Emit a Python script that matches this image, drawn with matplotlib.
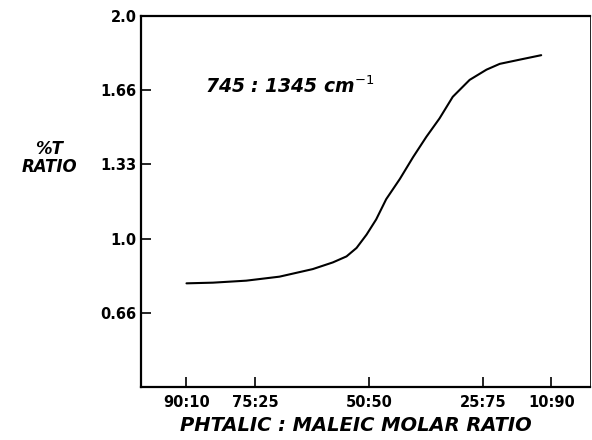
import matplotlib
matplotlib.use("Agg")
import matplotlib.pyplot as plt

phthalic = [90.0, 84.2, 76.9, 69.6, 62.3, 57.9, 54.9, 52.7, 50.5, 48.4,
            46.2, 43.2, 40.3, 37.4, 34.5, 31.6, 27.9, 24.2, 21.3, 16.9, 12.2]
ratio = [0.799, 0.802, 0.811, 0.829, 0.863, 0.893, 0.920, 0.958, 1.018, 1.086,
         1.177, 1.268, 1.366, 1.457, 1.540, 1.637, 1.713, 1.759, 1.785, 1.804, 1.824]

x_ticks = [90, 75, 50, 25, 10]
x_labels = ["90:10", "75:25", "50:50", "25:75", "10:90"]
y_ticks = [2 / 3, 1.0, 4 / 3, 5 / 3, 2.0]
y_labels = ["0.66", "1.0", "1.33", "1.66", "2.0"]

plt.rcParams["font.family"] = ["DejaVu Sans"]

fig = plt.figure(figsize=(5.92, 4.40), dpi=100)
ax = fig.add_axes([0.238, 0.1205, 0.7586, 0.8431])

ax.plot(phthalic, ratio, color="black", lw=1.5, solid_capstyle="round",
        solid_joinstyle="round")

ax.set_xlim(100, 1.5)
ax.set_ylim(1 / 3, 2.0)
ax.set_xticks(x_ticks)
ax.set_xticklabels(x_labels, fontweight="bold")
ax.set_yticks(y_ticks)
ax.set_yticklabels(y_labels, fontweight="bold")

ax.tick_params(axis="both", direction="in", length=7, width=1.2,
               labelsize=10.5, colors="black")
ax.tick_params(axis="x", pad=6)
ax.tick_params(axis="y", pad=3)

for side in ["left", "bottom", "top"]:
    ax.spines[side].set_linewidth(1.6)
ax.spines["right"].set_linewidth(0.6)

ax.text(0.1425, 0.811, r"745 : 1345 cm$^{-1}$", transform=ax.transAxes,
        fontsize=13.5, style="italic", fontweight="bold", ha="left", va="center")

fig.text(49 / 592, 1 - 158 / 440, "%T\nRATIO", fontsize=12, style="italic",
         fontweight="bold", ha="center", va="center", linespacing=1.0)
fig.text(356 / 592, 1 - 425 / 440, "PHTALIC : MALEIC MOLAR RATIO",
         fontsize=14, style="italic", fontweight="bold", ha="center", va="center")

fig.savefig("out.png", dpi=100)
